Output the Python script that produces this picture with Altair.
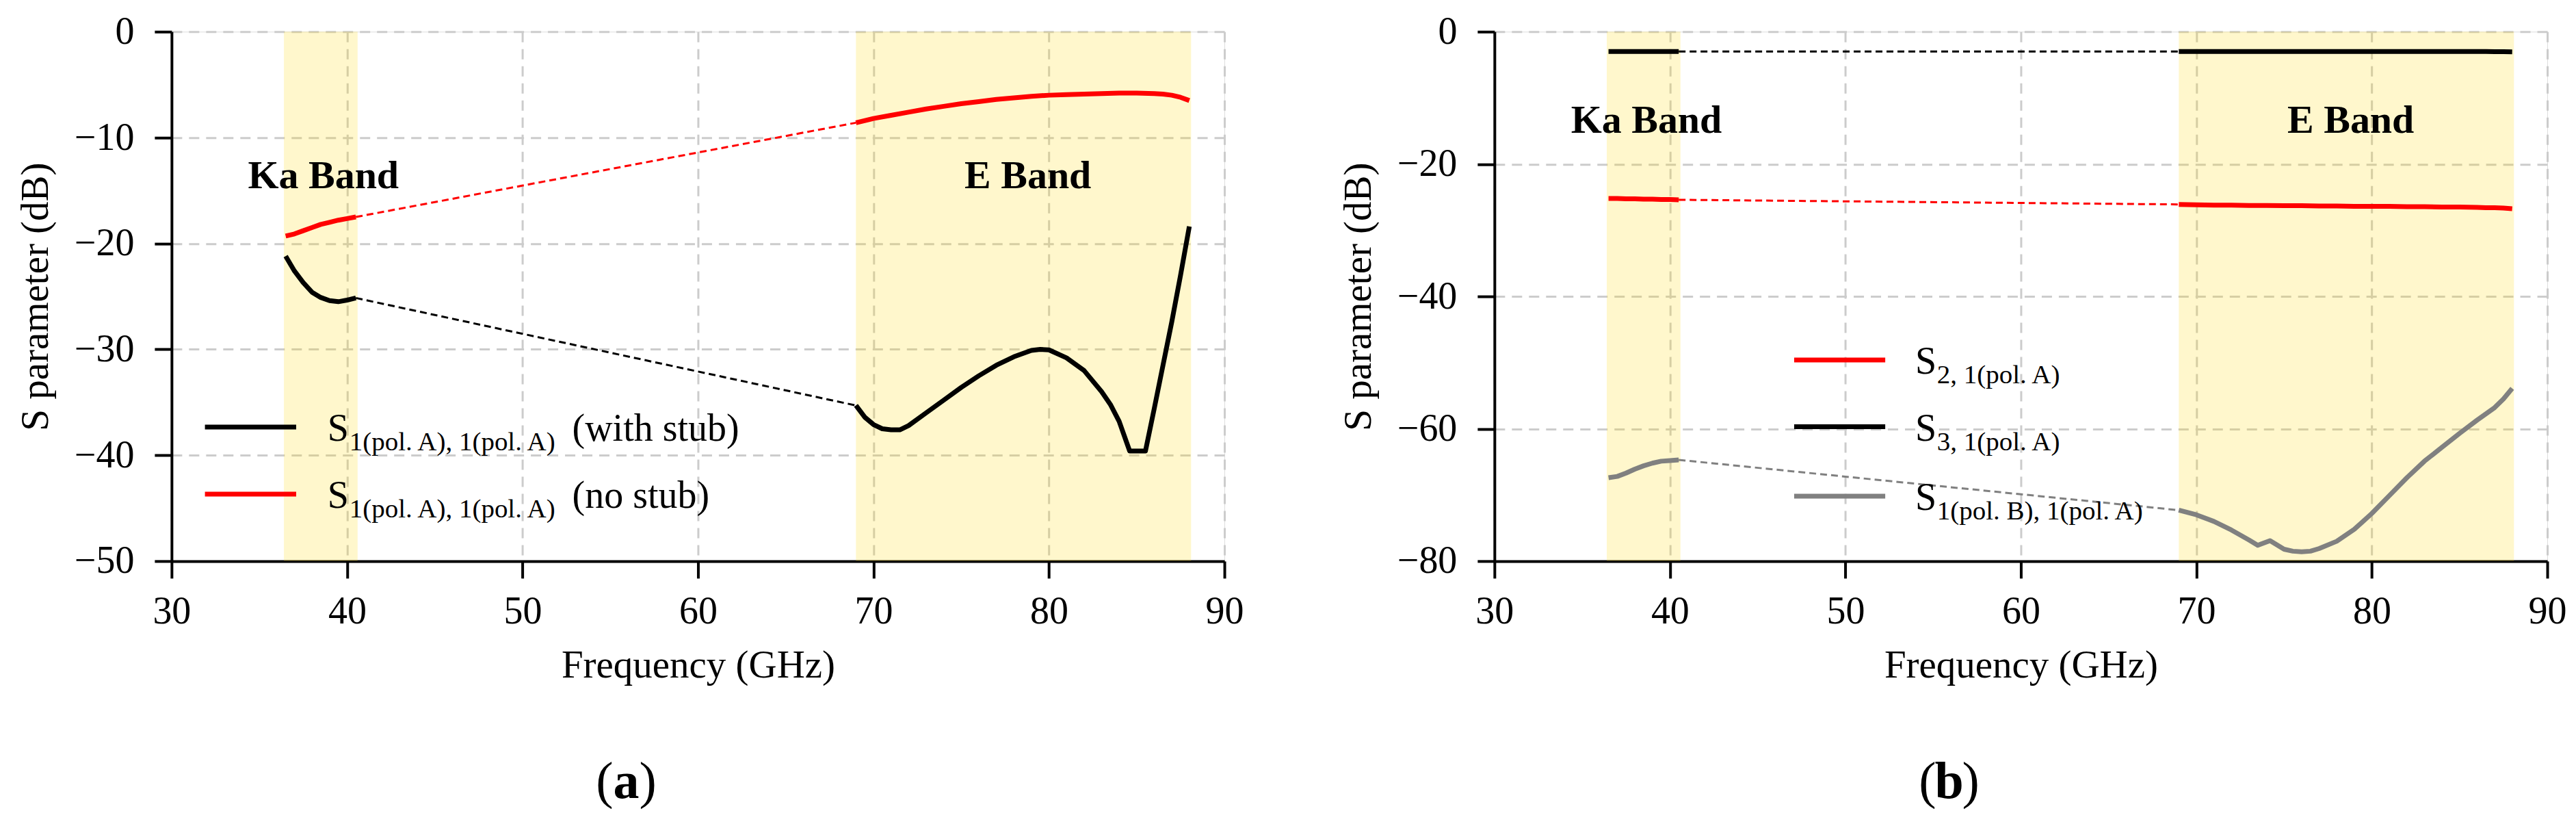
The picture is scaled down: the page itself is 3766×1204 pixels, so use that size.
import altair as alt
import pandas as pd

FONT = "Liberation Serif"
W, H = 1540, 774

# ---------------- data: panel (a) ----------------
ka_freq = [36.5, 37.0, 37.5, 38.0, 38.5, 39.0, 39.5, 40.0, 40.5]
stub_ka = [-21.2, -22.6, -23.7, -24.6, -25.1, -25.4, -25.5, -25.35, -25.15]
nostub_ka = [-19.3, -19.1, -18.8, -18.5, -18.2, -18.0, -17.8, -17.65, -17.5]

stub_e_freq = [69.0, 69.5, 70.0, 70.5, 71.0, 71.5, 72.0, 73.0, 74.0, 75.0, 76.0,
               77.0, 78.0, 79.0, 79.5, 80.0, 81.0, 82.0, 83.0, 83.5, 84.0, 84.6,
               85.5, 86.0, 86.5, 87.0, 87.5, 88.0]
stub_e = [-35.3, -36.4, -37.1, -37.5, -37.6, -37.6, -37.2, -36.0, -34.8, -33.6, -32.5,
          -31.5, -30.7, -30.1, -30.0, -30.05, -30.8, -32.0, -34.0, -35.2, -36.8, -39.6,
          -39.6, -35.6, -31.5, -27.4, -23.0, -18.4]

e_freq = [69.0, 70.0, 71.0, 72.0, 73.0, 74.0, 75.0, 76.0, 77.0, 78.0, 79.0,
          80.0, 81.0, 82.0, 83.0, 84.0, 85.0, 86.0, 86.5, 87.0, 87.5, 88.0]
nostub_e = [-8.6, -8.2, -7.9, -7.6, -7.3, -7.05, -6.8, -6.6, -6.4, -6.25, -6.1,
            -6.0, -5.95, -5.9, -5.85, -5.8, -5.8, -5.85, -5.9, -6.0, -6.2, -6.5]

# ---------------- data: panel (b) ----------------
s21_ka = [-25.2, -25.2, -25.25, -25.25, -25.3, -25.3, -25.35, -25.35, -25.4]
s31_ka = [-3.0, -3.0, -3.0, -3.0, -3.0, -3.0, -3.0, -3.0, -3.0]
s1b_ka = [-67.4, -67.2, -66.7, -66.1, -65.6, -65.2, -64.9, -64.8, -64.7]

s21_e = [-26.1, -26.15, -26.2, -26.2, -26.25, -26.25, -26.3, -26.3, -26.35, -26.35, -26.4,
         -26.4, -26.4, -26.45, -26.45, -26.5, -26.5, -26.55, -26.6, -26.6, -26.65, -26.75]
s31_e = [-3.0, -3.0, -3.0, -3.0, -3.0, -3.0, -3.0, -3.0, -3.0, -3.0, -3.0,
         -3.0, -3.0, -3.0, -3.0, -3.0, -3.0, -3.0, -3.0, -3.02, -3.03, -3.05]
s1b_e_freq = [69.0, 70.0, 71.0, 72.0, 73.0, 73.5, 74.2, 75.0, 75.5, 76.0, 76.5, 77.0,
              78.0, 79.0, 80.0, 81.0, 82.0, 83.0, 84.0, 85.0, 86.0, 87.0, 87.5, 88.0]
s1b_e = [-72.3, -73.0, -74.0, -75.3, -76.8, -77.6, -76.9, -78.2, -78.5, -78.6, -78.5, -78.1,
         -77.0, -75.2, -72.8, -70.1, -67.4, -64.9, -62.8, -60.7, -58.7, -56.8, -55.5, -53.9]

# ---------------- labels ----------------
x_ticks = [30, 40, 50, 60, 70, 80, 90]
y_ticks_a = [0, -10, -20, -30, -40, -50]
y_ticks_b = [0, -20, -40, -60, -80]
band_names = ["Ka Band", "E Band"]
ka_span = [36.4, 40.6]
e_span = [69.0, 88.1]

names_a = ["stub", "nostub"]
colors_a = ["#000000", "#ff0000"]
sub_a = ["1(pol. A), 1(pol. A)", "1(pol. A), 1(pol. A)"]
suffix_a = ["(with stub)", "(no stub)"]

names_b = ["s21", "s31", "s1b"]
colors_b = ["#ff0000", "#000000", "#808080"]
sub_b = ["2, 1(pol. A)", "3, 1(pol. A)", "1(pol. B), 1(pol. A)"]
suffix_b = ["", "", ""]

# annotation anchors (data units)
leg_a = dict(x0=31.9, x1=37.1, xs=38.88, xsub=40.13, xsuf=52.83, ys=[-37.34, -43.67])
leg_b = dict(x0=47.08, x1=52.27, xs=53.98, xsub=55.22, xsuf=None, ys=[-49.6, -59.7, -70.2])
band_pos_a = dict(x=[38.65, 78.8], y=-13.7)
band_pos_b = dict(x=[38.66, 78.8], y=-13.5)


def panel(series, names, colors, subs, suffixes, leg, band_pos, ydom, yticks, caption):
    rows, conn = [], []
    for name, kf, kv, ef, ev in series:
        for f, v in zip(kf, kv):
            rows.append(dict(f=f, v=v, s=name, seg="Ka"))
        for f, v in zip(ef, ev):
            rows.append(dict(f=f, v=v, s=name, seg="E"))
        conn.append(dict(f=kf[-1], v=kv[-1], s=name))
        conn.append(dict(f=ef[0], v=ev[0], s=name))
    df = pd.DataFrame(rows)
    dconn = pd.DataFrame(conn)

    xs = alt.Scale(domain=[30, 90], nice=False, zero=False)
    ys = alt.Scale(domain=ydom, nice=False, zero=False)
    cs = alt.Scale(domain=names, range=colors)

    x_axis = alt.Axis(values=x_ticks, title="Frequency (GHz)", format="d",
                      labelFont=FONT, labelFontSize=56, labelColor="black",
                      titleFont=FONT, titleFontSize=57, titleFontWeight="normal", titleColor="black",
                      tickSize=25, tickWidth=4, tickColor="black",
                      domainColor="black", domainWidth=4,
                      labelPadding=22, titlePadding=23, labelFlush=False, labelOverlap=False,
                      grid=True, gridColor="#cccccc", gridWidth=3, gridDash=[15, 10])
    y_axis = alt.Axis(values=yticks, title="S parameter (dB)", format="d",
                      labelFont=FONT, labelFontSize=56, labelColor="black",
                      titleFont=FONT, titleFontSize=57, titleFontWeight="normal", titleColor="black",
                      tickSize=25, tickWidth=4, tickColor="black",
                      domainColor="black", domainWidth=4,
                      labelPadding=30, titlePadding=27, labelFlush=False, labelOverlap=False,
                      grid=True, gridColor="#cccccc", gridWidth=3, gridDash=[15, 10])

    shade = pd.DataFrame({"a": [ka_span[0], e_span[0]], "b": [ka_span[1], e_span[1]]})
    shade_l = alt.Chart(shade).mark_rect(color="#ffd700", opacity=0.2).encode(
        x=alt.X("a:Q", scale=xs, axis=x_axis), x2="b:Q",
        y=alt.value(0), y2=alt.value(H))

    dashed = alt.Chart(dconn).mark_line(strokeWidth=3, strokeDash=[10, 6]).encode(
        x=alt.X("f:Q", scale=xs), y=alt.Y("v:Q", scale=ys, axis=y_axis),
        color=alt.Color("s:N", scale=cs, legend=None), detail="s:N")

    solid = alt.Chart(df).mark_line(strokeWidth=7, strokeCap="butt", strokeJoin="round").encode(
        x=alt.X("f:Q", scale=xs), y=alt.Y("v:Q", scale=ys),
        color=alt.Color("s:N", scale=cs, legend=None), detail="seg:N")

    bands = pd.DataFrame({"t": band_names, "x": band_pos["x"], "y": [band_pos["y"]] * 2})
    band_t = alt.Chart(bands).mark_text(font=FONT, fontSize=58, fontWeight="bold",
                                        color="black", align="center", baseline="middle").encode(
        x=alt.X("x:Q", scale=xs), y=alt.Y("y:Q", scale=ys), text="t:N")

    ld = pd.DataFrame({"s": names, "x0": [leg["x0"]] * len(names), "x1": [leg["x1"]] * len(names),
                       "y": leg["ys"], "S": ["S"] * len(names), "sub": subs, "suf": suffixes,
                       "xs": [leg["xs"]] * len(names), "xsub": [leg["xsub"]] * len(names)})
    leg_rule = alt.Chart(ld).mark_rule(strokeWidth=7).encode(
        x=alt.X("x0:Q", scale=xs), x2="x1:Q", y=alt.Y("y:Q", scale=ys),
        color=alt.Color("s:N", scale=cs, legend=None))
    leg_S = alt.Chart(ld).mark_text(font=FONT, fontSize=56, color="black", align="left",
                                    baseline="alphabetic", dy=20).encode(
        x=alt.X("xs:Q", scale=xs), y=alt.Y("y:Q", scale=ys), text="S:N")
    leg_sub = alt.Chart(ld).mark_text(font=FONT, fontSize=39, color="black", align="left",
                                      baseline="alphabetic", dy=34).encode(
        x=alt.X("xsub:Q", scale=xs), y=alt.Y("y:Q", scale=ys), text="sub:N")
    layers = [shade_l, dashed, solid, band_t, leg_rule, leg_S, leg_sub]
    if leg["xsuf"] is not None:
        ld2 = ld.assign(xsuf=leg["xsuf"])
        leg_suf = alt.Chart(ld2).mark_text(font=FONT, fontSize=56, color="black", align="left",
                                           baseline="alphabetic", dy=20).encode(
            x=alt.X("xsuf:Q", scale=xs), y=alt.Y("y:Q", scale=ys), text="suf:N")
        layers.append(leg_suf)

    cap = pd.DataFrame({"l": ["("], "m": [caption], "r": [")"]})
    cap_l = alt.Chart(cap).mark_text(font=FONT, fontSize=76, color="black", align="right",
                                     baseline="middle", dx=-19).encode(
        x=alt.value(665), y=alt.value(1097), text="l:N")
    cap_m = alt.Chart(cap).mark_text(font=FONT, fontSize=76, fontWeight="bold", color="black",
                                     align="center", baseline="middle").encode(
        x=alt.value(665), y=alt.value(1097), text="m:N")
    cap_r = alt.Chart(cap).mark_text(font=FONT, fontSize=76, color="black", align="left",
                                     baseline="middle", dx=19).encode(
        x=alt.value(665), y=alt.value(1097), text="r:N")
    layers += [cap_l, cap_m, cap_r]

    return alt.layer(*layers).properties(width=W, height=H)


pa = panel([("stub", ka_freq, stub_ka, stub_e_freq, stub_e),
            ("nostub", ka_freq, nostub_ka, e_freq, nostub_e)],
           names_a, colors_a, sub_a, suffix_a, leg_a, band_pos_a, [-50, 0], y_ticks_a, "a")
pb = panel([("s21", ka_freq, s21_ka, e_freq, s21_e),
            ("s31", ka_freq, s31_ka, e_freq, s31_e),
            ("s1b", ka_freq, s1b_ka, s1b_e_freq, s1b_e)],
           names_b, colors_b, sub_b, suffix_b, leg_b, band_pos_b, [-80, 0], y_ticks_b, "b")

chart = alt.hconcat(pa, pb, spacing=137).resolve_scale(
    x="independent", y="independent", color="independent"
).properties(
    padding={"left": 14, "top": 9, "right": 5, "bottom": 5}
).configure_view(stroke="black", strokeWidth=4).configure(background="white")

chart.save("out.html", embed_options={"renderer": "svg", "actions": False})
